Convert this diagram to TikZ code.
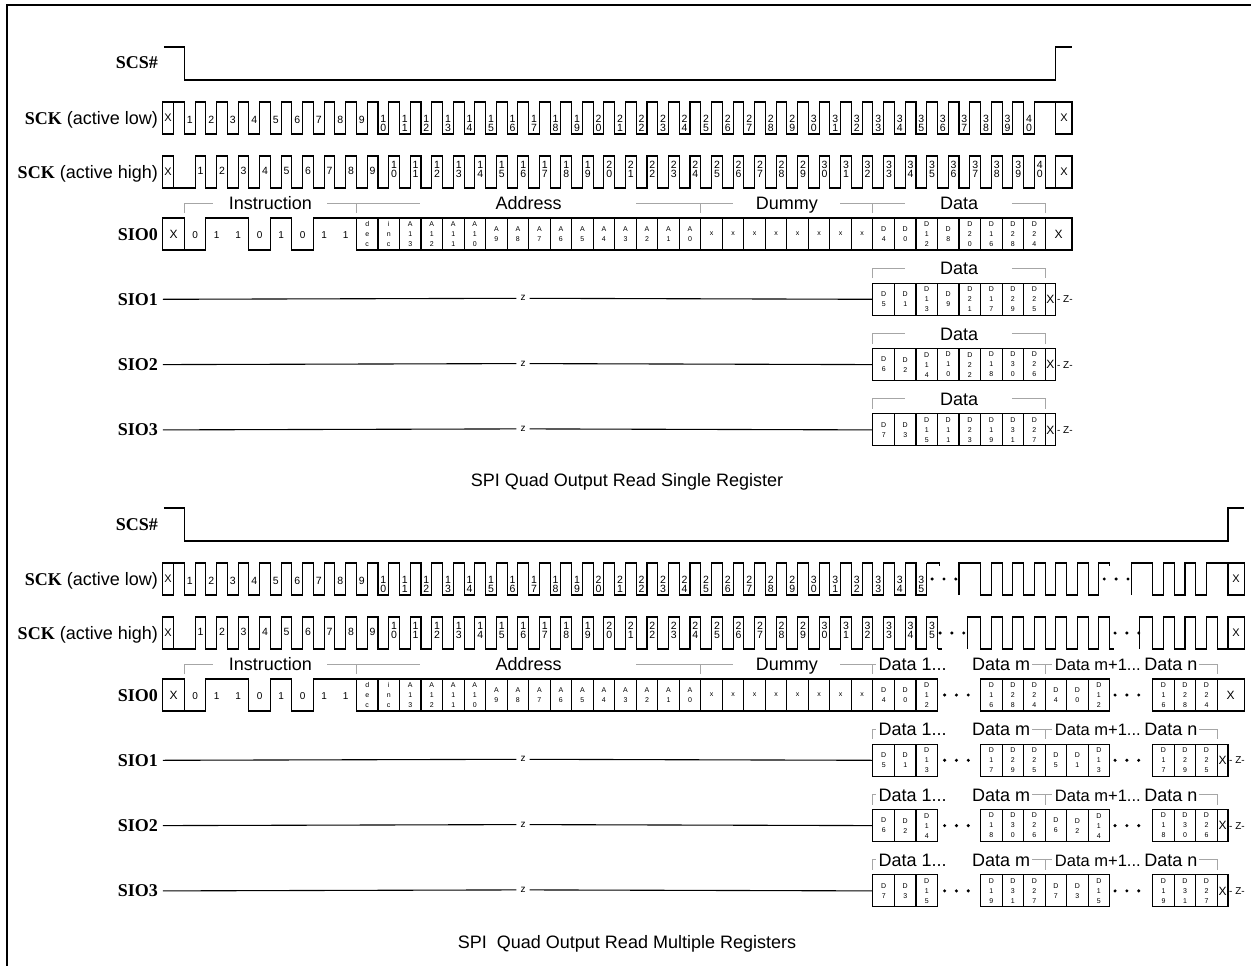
\documentclass[tikz,border=0pt]{standalone}
\usepackage{fontspec}
\setmainfont{Liberation Sans}
\newfontfamily\tnr{Liberation Serif}
\newcommand\twodig[2]{#1\\#2}
\newcommand\clab[1]{\ifnum#1<10 #1\else\expandafter\twodig#1\fi}
\newcommand\dlab[1]{D\\\ifnum#1<10 #1\else\expandafter\twodig#1\fi}

\begin{document}
\begin{tikzpicture}[x=1pt, y=-1pt]
    \tikzset{
        sig/.style = {line width=1.1pt},
        brk/.style = {line width=1pt, draw=black!35},
        siglabel/.style = {anchor=base east, inner sep=0pt, font=\fontsize{18}{20}\selectfont},
        brktext/.style = {anchor=base, inner sep=0pt, font=\fontsize{18}{20}\selectfont},
        clknum/.style = {inner sep=0pt, align=center, font=\fontsize{10.5}{9}\selectfont},
        bitnum/.style = {inner sep=0pt, font=\fontsize{10}{10}\selectfont},
        celltxt/.style = {inner sep=0pt, align=center, font=\fontsize{7}{10}\selectfont},
        bigx/.style = {inner sep=0pt, font=\fontsize{12}{12}\selectfont},
        clkx/.style = {inner sep=0pt, font=\fontsize{11}{11}\selectfont},
        ztxt/.style = {inner sep=4pt, font=\fontsize{10}{10}\selectfont},
    }
    \useasboundingbox (0,0) rectangle (1251,966);
    \fill[white] (0,0) rectangle (1251,966);
    \draw[line width=2pt] (6.5,980) -- (6.5,5.5) -- (1270,5.5);

    \node[brktext] (title1) at (627,486.5) {SPI Quad Output Read Single Register};
    \node[brktext] (title2) at (627,948.5) {SPI\ \ Quad Output Read Multiple Registers};

    \foreach \dy/\K/\last in {0/40/39, 461/48/34} {
    \begin{scope}[shift={(0,\dy)}]
        \node[siglabel] (scs\dy) at (158,69) {\tnr\bfseries SCS\#};
        \node[siglabel] (sckl\dy) at (158,124.5) {{\tnr\bfseries SCK} (active low)};
        \node[siglabel] (sckh\dy) at (158,178.5) {{\tnr\bfseries SCK} (active high)};
        \foreach \n in {0,...,3}
            \node[siglabel] (sio\n-\dy) at (158,240+65.3*\n) {\tnr\bfseries SIO\n};

        \begin{scope}[x=21.52pt, xshift=184.3pt]
            \draw[sig] (-0.95,47) -- (0,47) -- (0,80) -- (\K+.5,80) -- (\K+.5,47) -- (\K+1.25,47);

            \draw[sig] (-1,102) rectangle (-0.5,134) (\K+.5,102) rectangle (\K+1.25,134);
            \draw[sig] (-0.5,102) \foreach \k in {0,...,\last} { -- (\k,102) -- (\k,134) -- (\k+.5,134) -- (\k+.5,102) };
            \node[clkx] (xl\dy) at (-0.75,118) {X};
            \node[clkx] (xle\dy) at (\K+.875,118) {X};

            \draw[sig] (-1,156) rectangle (-0.5,188) (\K+.5,156) rectangle (\K+1.25,188);
            \draw[sig] (-0.5,188) \foreach \k in {0,...,\last} { -- (\k+.5,188) -- (\k+.5,156) -- (\k+1,156) -- (\k+1,188) };
            \node[clkx] (xh\dy) at (-0.75,172) {X};
            \node[clkx] (xhe\dy) at (\K+.875,172) {X};

            \foreach \k in {0,...,\last} {
                \pgfmathtruncatemacro\cn{\k+1}
                \ifnum\cn<10
                    \node[clknum] (nl\dy-\k) at (\k+.25,120) {\cn};
                    \node[clknum] (nh\dy-\k) at (\k+.75,171) {\cn};
                \else
                    \node[clknum] (nl\dy-\k) at (\k+.25,123) {\clab\cn};
                    \node[clknum] (nh\dy-\k) at (\k+.75,169) {\clab\cn};
                \fi
            }

            \draw[sig] (-1,218) rectangle (0,250) (\K,218) rectangle (\K+1.25,250);
            \node[bigx] (xs\dy) at (-.5,234) {X};
            \node[bigx] (xse\dy) at (\K+.625,234) {X};
            \draw[sig] (0,250) -- (1,250) -- (1,218) -- (3,218) -- (3,250) -- (4,250) -- (4,218) -- (5,218) -- (5,250) -- (6,250) -- (6,218) -- (8,218);
            \foreach \b [count=\k from 0] in {0,1,1,0,1,0,1,1}
                \node[bitnum] (bit\dy-\k) at (\k+.5,235) {\b};
            \foreach \t [count=\k from 8] in {{d\\e\\c},{i\\n\\c},{A\\1\\3},{A\\1\\2},{A\\1\\1},{A\\1\\0},{A\\9},{A\\8},{A\\7},{A\\6},{A\\5},{A\\4},{A\\3},{A\\2},{A\\1},{A\\0},x,x,x,x,x,x,x,x} {
                \draw[sig] (\k,218) rectangle (\k+1,250);
                \node[celltxt] (adr\dy-\k) at (\k+.5,234) {\t};
            }

            \foreach \n in {1,2,3} {
                \node[ztxt] (z\n-\dy) at (15.74,233+65.3*\n) {z};
                \draw[sig] (-1,234+65.3*\n) -- (z\n-\dy.west);
                \draw[sig] (z\n-\dy.east) -- (32,234+65.3*\n);
                \draw[sig] (\K,218+65.3*\n) rectangle (\K+.5,250+65.3*\n);
                \node[bigx] (xz\n-\dy) at (\K+.25,234+65.3*\n) {X};
                \node[ztxt, inner sep=1pt, anchor=west] (hz\n-\dy) at (\K+.5,234+65.3*\n) {- Z-};
            }

            \draw[brk] (0,213) -- (0,203) -- (1.35,203) (6.65,203) -- (10.95,203) (8,203) -- (8,213);
            \draw[brk] (21,203) -- (25.5,203) (24,203) -- (24,213) (30.47,203) -- (32,203) -- (32,213);
            \node[brktext] (instr\dy) at (4,209.5) {Instruction};
            \node[brktext] (addr\dy) at (16,209.5) {Address};
            \node[brktext] (dummy\dy) at (28,209.5) {Dummy};
        \end{scope}
    \end{scope}
    }

    % single register
    \begin{scope}[x=21.52pt, xshift=184.3pt]
        \draw[sig] (39.5,102) -- (40.5,102);
        \draw[sig] (40,188) -- (40.5,188);
        \foreach \n in {0,...,3} {
            \foreach \k/\b in {32/4,33/0,34/12,35/8,36/20,37/16,38/28,39/24} {
                \pgfmathtruncatemacro\dn{\b+\n}
                \draw[sig] (\k,218+65.3*\n) rectangle (\k+1,250+65.3*\n);
                \node[celltxt] (d\n-\k) at (\k+.5,234+65.3*\n) {\dlab\dn};
            }
            \draw[brk] (32,213+65.3*\n) -- (32,203+65.3*\n) -- (33.5,203+65.3*\n) (38.46,203+65.3*\n) -- (40,203+65.3*\n) -- (40,213+65.3*\n);
            \node[brktext] (data\n) at (36,209.5+65.3*\n) {Data};
        }
    \end{scope}

    % multiple registers
    \begin{scope}[shift={(0,461)}, x=21.52pt, xshift=184.3pt]
        \draw[sig] (34.5,102) -- (35.1,102) -- (35.1,105);
        \draw[sig] (36,134) -- (36,102) -- (37,102) \foreach \k in {37,...,42} { -- (\k,102) -- (\k,134) -- (\k+.5,134) -- (\k+.5,102) } -- (43,102) -- (43,105);
        \draw[sig] (44,134) -- (44,102) -- (45,102) \foreach \k in {45,...,47} { -- (\k,102) -- (\k,134) -- (\k+.5,134) -- (\k+.5,102) } -- (48.5,102);
        \draw[sig] (35,188) -- (35.2,188);
        \draw[sig] (36.4,188) -- (36.4,156) -- (37,156) -- (37,188) \foreach \k in {37,...,42} { -- (\k+.5,188) -- (\k+.5,156) -- (\k+1,156) -- (\k+1,188) } -- (43.2,188);
        \draw[sig] (44.4,188) -- (44.4,156) -- (45,156) -- (45,188) \foreach \k in {45,...,47} { -- (\k+.5,188) -- (\k+.5,156) -- (\k+1,156) -- (\k+1,188) } -- (48.5,188);
        \foreach \c/\y in {35.3/118, 43.3/118, 35.67/172, 43.8/172}
            \foreach \i in {-1,0,1}
                \fill (\c+.55*\i,\y) circle (1.7pt);
        \foreach \n in {0,...,3} {
            \foreach \k/\b in {32/4,33/0,34/12,37/16,38/28,39/24,40/4,41/0,42/12,45/16,46/28,47/24} {
                \pgfmathtruncatemacro\dn{\b+\n}
                \draw[sig] (\k,218+65.3*\n) rectangle (\k+1,250+65.3*\n);
                \node[celltxt] (m\n-\k) at (\k+.5,234+65.3*\n) {\dlab\dn};
            }
            \foreach \c in {35.88,43.8}
                \foreach \i in {-1,0,1}
                    \fill (\c+.55*\i,234+65.3*\n) circle (1.7pt);
            \draw[brk] (32,213+65.3*\n) -- (32,203+65.3*\n) -- (32.12,203+65.3*\n);
            \draw[brk] (39.4,203+65.3*\n) -- (40.32,203+65.3*\n) (40,203+65.3*\n) -- (40,213+65.3*\n);
            \draw[brk] (47.15,203+65.3*\n) -- (48,203+65.3*\n) -- (48,213+65.3*\n);
            \node[brktext, anchor=base west] (first\n) at (32.25,209.5+65.3*\n) {Data 1...};
            \node[brktext, anchor=base west] (mth\n) at (36.6,209.5+65.3*\n) {Data m};
            \node[brktext, anchor=base west, font=\fontsize{16.5}{20}\selectfont] (next\n) at (40.45,209.5+65.3*\n) {Data m+1...};
            \node[brktext, anchor=base west] (last\n) at (44.6,209.5+65.3*\n) {Data n};
        }
    \end{scope}
\end{tikzpicture}
\end{document}
